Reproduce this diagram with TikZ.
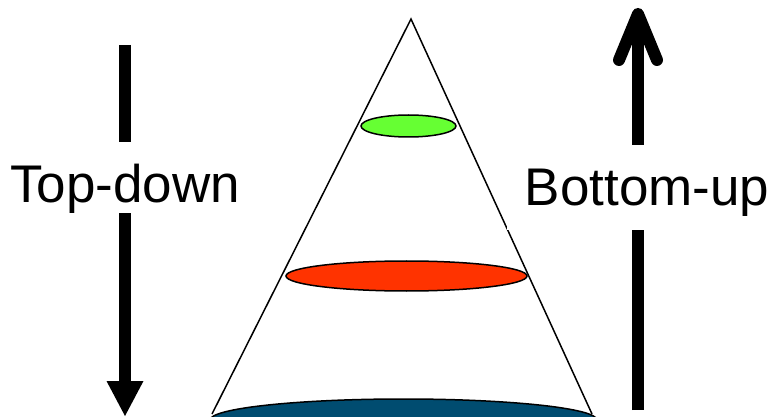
\documentclass[tikz,border=0pt]{standalone}
\usepackage{fontspec}
\setmainfont{Liberation Sans}
\usepackage{xcolor}
\usetikzlibrary{shapes.geometric, arrows.meta}

\definecolor{leafgreen}{RGB}{102,255,51}
\definecolor{hotred}{RGB}{255,51,0}
\definecolor{deepteal}{RGB}{0,76,112}

\begin{document}
\begin{tikzpicture}[
  x=1pt, y=-1pt,
  layer/.style={ellipse, draw, line width=1.5pt, inner sep=0pt},
  dirtext/.style={fill=white, inner ysep=0pt, inner xsep=18pt, anchor=base, text height=61pt, font=\fontsize{53}{62}\selectfont},
  flow/.style={line width=12pt}
]
\useasboundingbox (0,0) rectangle (772,417);

% cone
\coordinate (apex) at (411,19);
\coordinate (coneleft) at (212,414);
\coordinate (coneright) at (592,414);
\draw[line width=1.5pt] (coneleft) -- (apex) -- (coneright);

\node[layer, fill=leafgreen, minimum width=95pt, minimum height=22pt] (high) at (408.5,126) {};
\node[layer, fill=hotred, minimum width=241pt, minimum height=30pt] (mid) at (406.5,276) {};
\node[layer, fill=deepteal, minimum width=387pt, minimum height=42pt] (base) at (403.5,420) {};

% directions
\coordinate (tdstart) at (125,45);
\coordinate (tdend) at (125,416);
\coordinate (bustart) at (638,410);
\coordinate (buend) at (638,8);

\draw[flow, -{Triangle[length=35pt, width=37pt, line width=0pt]}] (tdstart) -- (tdend);
\draw[flow, -{Straight Barb[round, length=46pt, width=38pt]}] (bustart) -- (buend);

\node[dirtext, text depth=10pt] (topdown) at (125,203) {Top-down};
\node[dirtext, text depth=24pt] (bottomup) at (647,206) {Bottom-up};

\end{tikzpicture}
\end{document}
